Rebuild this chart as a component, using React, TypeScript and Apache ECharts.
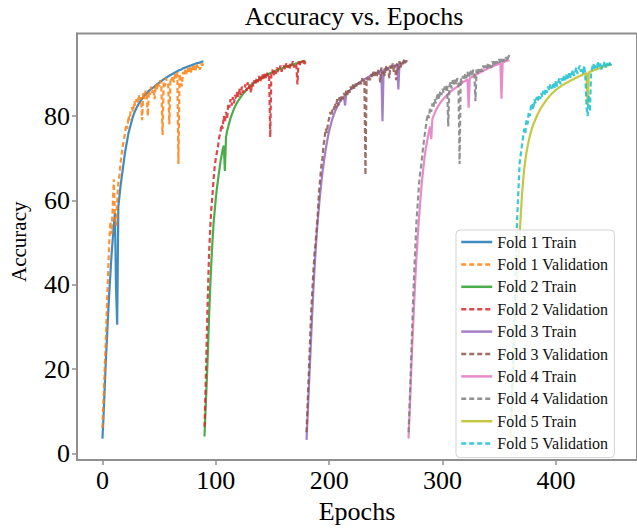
import React, { useEffect, useRef } from "react";
import * as echarts from "echarts";

const FONT = "'Liberation Serif', 'Times New Roman', Times, serif";

const FOLD_STARTS = [0, 90, 180, 270, 360];
const X_TICKS = [0, 100, 200, 300, 400];
const Y_TICKS = [0, 20, 40, 60, 80];

const COLORS_TRAIN = ["#1f77b4", "#2ca02c", "#9467bd", "#e377c2", "#bcbd22"];
const COLORS_VAL = ["#ff7f0e", "#d62728", "#8c564b", "#7f7f7f", "#17becf"];

const fold1Train = [
  3.5, 9, 15.5, 22, 27.5, 33, 38, 42.5, 47, 50.5,
  54, 57, 39, 30.5, 58.5, 61, 63.5, 65.5, 67.5, 69.5,
  71.5, 73, 74.5, 76, 77, 78, 79, 80, 80.7, 81.3,
  81.9, 82.4, 82.9, 83.3, 83.7, 84.1, 84.5, 84.8, 85.1, 85.4,
  85.7, 86, 86.2, 86.4, 86.6, 86.8, 87, 87.3, 87.5, 87.7,
  87.9, 88.1, 88.3, 88.5, 88.7, 88.9, 89.1, 89.2, 89.4, 89.6,
  89.7, 89.9, 90, 90.2, 90.3, 90.5, 90.6, 90.8, 90.9, 91,
  91.1, 91.3, 91.4, 91.5, 91.6, 91.7, 91.8, 91.9, 92, 92.1,
  92.2, 92.3, 92.4, 92.5, 92.6, 92.6, 92.7, 92.8, 92.9, 93,
];
const fold1Val = [
  6, 13, 20, 27, 35, 43, 50, 55, 52, 58,
  65, 56, 54, 60, 64, 66, 69, 71, 73, 74.5,
  76, 78, 77, 80, 79, 81.5, 82, 81, 83.5, 82.5,
  84, 83, 85, 83.5, 84.5, 79, 85.5, 84, 86, 85,
  80, 86, 85, 87, 85.5, 86.5, 84, 87.5, 86, 88,
  87, 88.5, 86.5, 75.5, 88, 87, 89, 88, 87.5, 78,
  89, 88.5, 89.5, 88, 90, 89, 90.5, 68.6, 90, 88.5,
  87, 90.5, 89.5, 91, 90, 91.5, 90.5, 91.5, 90, 92,
  91, 92, 90.5, 92.5, 91.5, 92, 91, 92.5, 92, 92.5,
];
const fold2Train = [
  4, 10.5, 17, 24, 32, 39, 45, 50, 54.5, 57.5,
  60.5, 63, 65, 67, 69, 70.5, 72, 73, 67, 75,
  76.5, 77.5, 78.5, 79.5, 80.3, 81, 81.7, 82.3, 82.8, 83.3,
  83.7, 84.1, 84.5, 84.9, 85.2, 85.6, 85.9, 86.2, 86.5, 86.8,
  87, 87.3, 87.5, 87.7, 87.9, 88.1, 88.3, 88.5, 88.7, 88.8,
  89, 89.2, 89.3, 89.5, 89.6, 89.8, 89.9, 90, 90.2, 90.3,
  90.4, 90.5, 90.7, 90.8, 90.9, 91, 91.1, 91.2, 91.3, 91.4,
  91.5, 91.6, 91.7, 91.8, 91.9, 92, 92, 92.1, 92.2, 92.3,
  92.4, 92.5, 92.5, 92.6, 92.7, 92.8, 92.9, 93, 93, 93.1,
];
const fold2Val = [
  6.3, 16, 27, 38, 47, 53, 58, 61, 65, 68,
  70, 71.5, 73, 75, 76, 78, 77, 80, 78.5, 81,
  79.5, 83, 82, 84, 82.5, 84.5, 83, 85, 84, 86,
  84.5, 86.5, 85, 87, 85.5, 86, 87.5, 86, 88, 86.5,
  87.5, 85.5, 88, 87, 88.5, 87.5, 89, 88, 89.5, 88,
  89, 90, 88.5, 90, 89, 90.5, 89.5, 90, 75, 90.5,
  91, 89.5, 91, 90, 91.5, 90.5, 91, 92, 90.5, 91.5,
  92, 91, 92.5, 91.5, 92, 91, 92.5, 92, 93, 91.5,
  92.5, 92, 87.5, 93, 92, 93, 92.5, 93.2, 92, 93,
];
const fold3Train = [
  3.2, 9, 15, 21, 27, 33, 38.5, 43.5, 48, 52,
  55.5, 58.5, 61.5, 64, 66.5, 68.5, 70.5, 72.2, 73.8, 75.2,
  76.5, 77.6, 78.6, 79.5, 80.3, 81, 81.6, 82.2, 82.7, 83.2,
  83.6, 84, 84.3, 84.6, 82.5, 85.2, 85.5, 85.8, 86.1, 86.3,
  86.6, 86.8, 87, 87.2, 87.4, 87.6, 87.8, 88, 88.2, 88.4,
  88.6, 88.7, 88.9, 89, 89.2, 89.3, 89.5, 89.6, 89.8, 89.9,
  90, 90.2, 90.3, 90.4, 90.5, 90.7, 90.8, 78.8, 91, 91.1,
  91.2, 91.3, 91.4, 91.5, 91.6, 91.7, 91.8, 91.9, 92, 92.1,
  92.2, 86.3, 92.4, 92.5, 92.6, 92.7, 92.8, 92.9, 93, 93,
];
const fold3Val = [
  5, 12, 19, 26, 33, 38, 43, 47, 50, 53.5,
  57, 62, 65, 68, 70, 73, 75, 77, 76, 78.5,
  79.5, 81, 80, 82, 81.5, 83, 82, 84, 82.5, 84.5,
  83.5, 85, 84, 85.5, 84.5, 86, 85, 86.5, 85.5, 87,
  86, 87.5, 86.5, 88, 87, 88, 87.5, 88.5, 87.5, 89,
  88, 88.5, 66, 89, 88.5, 89.5, 88.5, 90, 89, 90.5,
  89.5, 90.5, 89.5, 91, 90, 88, 91.5, 90, 91, 89.5,
  92, 90.5, 91.5, 89, 92, 91, 92.5, 90.5, 92, 88.5,
  92.5, 91, 93, 91.5, 92.5, 92, 93.5, 92.5, 93.5, 93,
];
const fold4Train = [
  3.5, 10, 17, 24, 30, 36, 41.5, 46.5, 51, 55,
  58.5, 62, 65, 67.5, 70, 72, 73.5, 75, 76.3, 77.5,
  74.5, 79.3, 80, 80.7, 81.3, 81.8, 82.3, 82.7, 83.1, 83.5,
  83.8, 84.1, 84.4, 84.7, 85, 85.3, 85.5, 85.8, 86, 86.2,
  86.4, 86.6, 86.8, 87, 87.2, 87.4, 87.6, 87.8, 88, 88.2,
  88.3, 88.5, 88.7, 82, 89, 89.1, 89.3, 89.4, 89.6, 89.7,
  89.9, 90, 90.2, 90.3, 90.5, 90.6, 90.7, 90.9, 91, 91.1,
  91.3, 91.4, 91.5, 91.6, 91.8, 91.9, 92, 92.1, 92.2, 92.3,
  92.4, 92.5, 84.1, 92.7, 92.8, 92.9, 93, 93.1, 93.2, 93.3,
];
const fold4Val = [
  5, 12, 20, 28, 36, 43, 49, 55, 59, 63,
  66, 68, 70.5, 73, 75, 77, 79, 80.5, 79.5, 82,
  81, 83, 82, 84, 83, 84.5, 85.5, 84, 86, 85,
  86.5, 85.5, 87, 86, 87.5, 77.5, 87, 88, 86.5, 88.5,
  87.5, 89, 87.5, 89, 88, 68.6, 89, 88, 89.5, 88.5,
  90, 89, 90.5, 89, 90, 91, 89.5, 91, 90, 83.5,
  91, 90, 91.5, 90.5, 91.5, 90.5, 92, 91, 92, 91,
  92.5, 91.5, 92.5, 91.5, 93, 92, 93, 92, 93, 92.5,
  93.5, 92.5, 93.5, 92.5, 93.5, 93, 94, 93, 94, 94.5,
];
const fold5Train = [
  3.5, 10, 17, 24, 30.5, 36.5, 42, 47, 52, 56.5,
  61, 64.5, 67.5, 69.5, 71.3, 72.8, 74.1, 75.3, 76.3, 77.2,
  78, 78.6, 79.3, 79.9, 80.5, 81, 81.5, 82, 82.4, 82.8,
  83.2, 83.6, 84, 84.3, 84.6, 84.9, 85.2, 85.5, 85.7, 86,
  86.2, 86.4, 86.6, 86.8, 87, 87.2, 87.4, 87.5, 87.7, 87.8,
  88, 88.1, 88.3, 88.4, 88.6, 88.7, 88.8, 89, 89.1, 89.2,
  89.4, 89.5, 89.6, 89.7, 89.9, 90, 90.1, 90.2, 82.7, 90.4,
  90.5, 90.6, 90.7, 90.8, 90.9, 91, 91.1, 91.2, 91.3, 91.4,
  91.5, 91.6, 91.7, 91.8, 91.9, 92, 92, 92.1, 92.2, 92.3,
];
const fold5Val = [
  6, 14, 22, 31, 40, 49, 57, 63, 69, 71,
  73, 75, 77, 76, 79, 78, 81, 80, 82.5, 83,
  81.5, 84, 83, 84.5, 83.5, 85, 84, 85.5, 84.5, 86,
  85, 86.5, 85.5, 87, 86, 87.5, 86.5, 87, 88, 86.5,
  88.5, 87, 88, 89, 87.5, 89, 88, 89.5, 88.5, 90,
  88.5, 89.5, 90.5, 89, 90, 91, 89.5, 90.5, 91.5, 90,
  91, 92, 90.5, 91.5, 90, 92, 89, 82, 80, 85,
  81, 90, 91.5, 92.5, 91, 92, 91, 93, 91.5, 92.5,
  91, 92.5, 92, 93, 91.5, 92.5, 92, 93, 92, 92.5,
];

const TRAIN = [fold1Train, fold2Train, fold3Train, fold4Train, fold5Train];
const VAL = [fold1Val, fold2Val, fold3Val, fold4Val, fold5Val];

export default function App() {
  const ref = useRef<HTMLDivElement>(null);
  useEffect(() => {
    if (!ref.current) return;
    const chart = echarts.init(ref.current, undefined, { renderer: "svg" });
    const series: any[] = [];
    const legendNames: string[] = [];
    for (let i = 0; i < 5; i++) {
      const start = FOLD_STARTS[i];
      const tName = `Fold ${i + 1} Train`;
      const vName = `Fold ${i + 1} Validation`;
      legendNames.push(tName, vName);
      series.push({
        name: tName,
        type: "line",
        data: TRAIN[i].map((v, k) => [start + k, v]),
        showSymbol: false,
        symbol: "none",
        color: COLORS_TRAIN[i],
        lineStyle: { width: 2.2, color: COLORS_TRAIN[i], opacity: 0.85 },
        z: 2,
      });
      series.push({
        name: vName,
        type: "line",
        data: VAL[i].map((v, k) => [start + k, v]),
        showSymbol: false,
        symbol: "none",
        color: COLORS_VAL[i],
        lineStyle: { width: 2.2, color: COLORS_VAL[i], type: [5, 3], opacity: 0.85 },
        z: 2,
      });
    }
    chart.setOption({
      animation: false,
      backgroundColor: "#ffffff",
      textStyle: { fontFamily: FONT },
      grid: {
        left: 70,
        right: -2.4,
        top: 33.4,
        bottom: 65.5,
        show: true,
        borderColor: "#8f8f8f",
        borderWidth: 2,
        backgroundColor: "transparent",
      },
      graphic: [
        {
          type: "text",
          x: 354,
          y: 16,
          style: {
            text: "Accuracy vs. Epochs",
            fill: "#000",
            font: `26px ${FONT}`,
            textAlign: "center",
            textVerticalAlign: "middle",
          },
        },
      ],
      xAxis: {
        type: "value",
        min: -22.45,
        max: 471.5,
        name: "Epochs",
        nameLocation: "middle",
        nameGap: 36,
        nameTextStyle: { fontFamily: FONT, fontSize: 26, color: "#000" },
        axisLine: { show: true, onZero: false, lineStyle: { color: "#8f8f8f", width: 2 } },
        axisTick: { show: true, inside: false, length: 5, customValues: X_TICKS, lineStyle: { color: "#8f8f8f", width: 1.5 } },
        axisLabel: { show: true, customValues: X_TICKS, margin: 7, fontFamily: FONT, fontSize: 26, color: "#000" },
        splitLine: { show: false },
      },
      yAxis: {
        type: "value",
        min: -1.6,
        max: 99.6,
        name: "Accuracy",
        nameLocation: "middle",
        nameGap: 48,
        nameRotate: 90,
        nameTextStyle: { fontFamily: FONT, fontSize: 21, color: "#000", padding: [0, 0, 0, 10] },
        axisLine: { show: true, onZero: false, lineStyle: { color: "#8f8f8f", width: 2 } },
        axisTick: { show: true, inside: false, length: 5, customValues: Y_TICKS, lineStyle: { color: "#8f8f8f", width: 1.5 } },
        axisLabel: { show: true, customValues: Y_TICKS, margin: 7, fontFamily: FONT, fontSize: 26, color: "#000" },
        splitLine: { show: false },
      },
      legend: {
        data: legendNames,
        orient: "vertical",
        left: 456,
        top: 230,
        itemWidth: 31,
        itemHeight: 14,
        itemGap: 6.4,
        padding: [4, 6, 6, 4],
        backgroundColor: "rgba(255,255,255,0.85)",
        borderColor: "#d3d3d3",
        borderWidth: 1,
        borderRadius: 4,
        itemStyle: { opacity: 0, borderWidth: 0 },
        lineStyle: { width: 2.5 },
        textStyle: { fontFamily: FONT, fontSize: 16, color: "#111" },
        z: 10,
      },
      series,
    });
    return () => chart.dispose();
  }, []);
  return (
    <div
      ref={ref}
      style={{ position: "absolute", left: 0, top: 0, width: 637, height: 529, background: "#fff" }}
    />
  );
}
